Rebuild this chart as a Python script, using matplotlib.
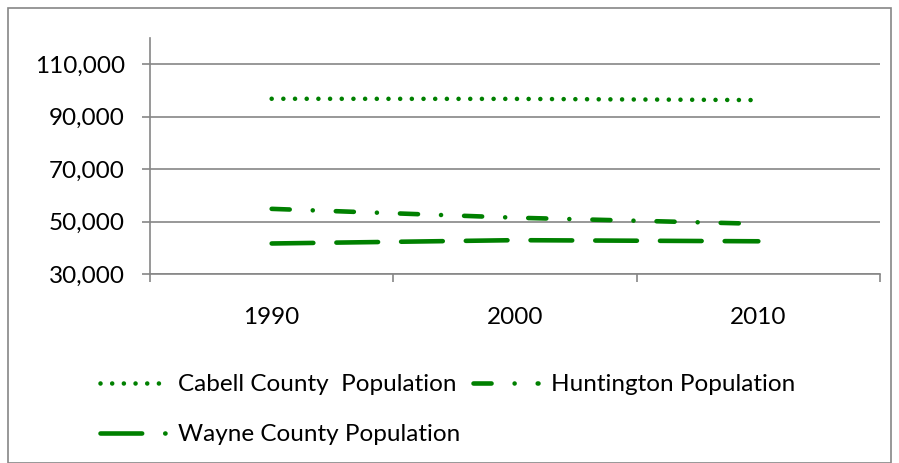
import matplotlib
matplotlib.use("Agg")
import matplotlib.pyplot as plt
from matplotlib.patches import Rectangle

plt.rcParams['font.family'] = ['Lato', 'DejaVu Sans']
plt.rcParams['lines.scale_dashes'] = False

# data
years = ['1990', '2000', '2010']
cabell = [96827, 96784, 96319]
huntington = [54844, 51475, 49138]
wayne = [41636, 42903, 42481]

green = '#008000'
grey = '#868686'
fs = 17.5

fig = plt.figure(figsize=(8.99, 4.63), dpi=100)
W, H = 899, 463
ax = fig.add_axes([150 / W, 1 - 274 / H, (880 - 150) / W, (274 - 38) / H])

x = range(len(years))
l1, = ax.plot(x, cabell, color=green, lw=3.3, dash_capstyle='round',
              dashes=(0.01, 8.4), label='Cabell County  Population')
l2, = ax.plot(x, huntington, color=green, lw=3.3, dash_capstyle='round',
              dashes=(13, 16.6, 0.01, 16.6), label='Huntington Population')
l3, = ax.plot(x, wayne, color=green, lw=3.3, dash_capstyle='round',
              dashes=(30, 16.6), label='Wayne County Population')

ax.set_xlim(-0.5, 2.5)
ax.set_ylim(30000, 120000)
ax.set_yticks(range(30000, 110001, 20000))
ax.set_yticklabels(['{:,}'.format(v) for v in range(30000, 110001, 20000)])
ax.yaxis.grid(True, color=grey, lw=1.2)
ax.set_axisbelow(True)

ax.set_xticks([-0.5, 0.5, 1.5, 2.5])
ax.set_xticklabels([])
ax.set_xticks(list(x), minor=True)
ax.set_xticklabels(years, minor=True)
ax.tick_params(axis='x', which='major', length=6, width=1.2, color=grey, direction='out')
ax.tick_params(axis='x', which='minor', length=0, pad=24, labelsize=fs)
ax.tick_params(axis='y', length=6, width=1.2, color=grey, pad=12, labelsize=fs)

for s in ['top', 'right']:
    ax.spines[s].set_visible(False)
for s in ['left', 'bottom']:
    ax.spines[s].set_color(grey)
    ax.spines[s].set_linewidth(1.2)

# legend, row-major order
fig.legend([l1, l3, l2], [l1.get_label(), l3.get_label(), l2.get_label()],
           ncol=2, loc='upper left', bbox_to_anchor=(100 / W, 1 - 374 / H),
           frameon=False, fontsize=fs, handlelength=2.67, handletextpad=0.54,
           labelspacing=1.2, columnspacing=0.54, borderpad=0, borderaxespad=0)

# chart border
fig.patches.append(Rectangle((8 / W, 0), (891 - 8) / W, 1 - 8 / H,
                             transform=fig.transFigure, fill=False,
                             edgecolor=grey, lw=1.2))

fig.savefig('out.png', dpi=100)
